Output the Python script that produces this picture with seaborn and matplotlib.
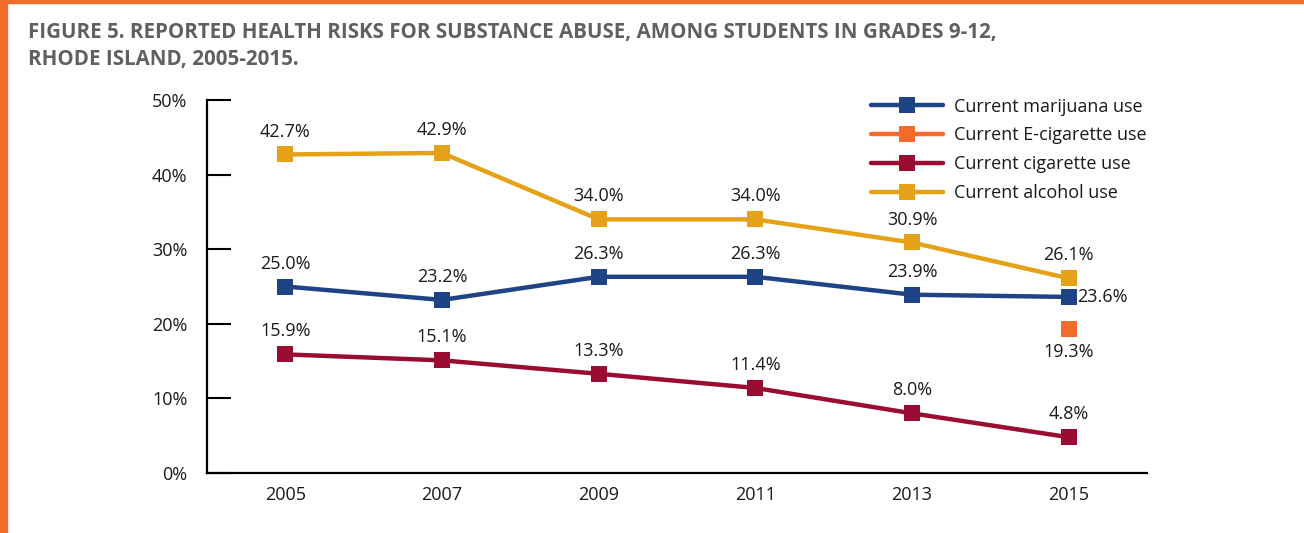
import matplotlib
matplotlib.use("Agg")
import matplotlib.pyplot as plt
import matplotlib.patches as mpatches
import numpy as np
import pandas as pd
import seaborn as sns

years = ["2005", "2007", "2009", "2011", "2013", "2015"]
marijuana = [25.0, 23.2, 26.3, 26.3, 23.9, 23.6]
ecig = [None, None, None, None, None, 19.3]
cigarette = [15.9, 15.1, 13.3, 11.4, 8.0, 4.8]
alcohol = [42.7, 42.9, 34.0, 34.0, 30.9, 26.1]

series_names = ["Current marijuana use", "Current E-cigarette use",
                "Current cigarette use", "Current alcohol use"]
series_values = [marijuana, ecig, cigarette, alcohol]
colors = ["#1F4486", "#F26B2A", "#9B0C32", "#E5A117"]

sns.set_theme(style="white")
plt.rcParams["font.family"] = ["Open Sans", "DejaVu Sans"]

fig = plt.figure(figsize=(13.04, 5.33), dpi=100)
ax = fig.add_axes([207 / 1304, 1 - 473 / 533, (1147 - 207) / 1304, (473 - 100) / 533])

rows = []
for name, vals in zip(series_names, series_values):
    for i, v in enumerate(vals):
        if v is not None:
            rows.append({"pos": i, "value": v, "series": name})
df = pd.DataFrame(rows)

for name, color in zip(series_names, colors):
    sub = df[df["series"] == name]
    sns.lineplot(data=sub, x="pos", y="value", ax=ax, color=color, lw=3.2,
                 marker="s", markersize=11.5, markeredgewidth=0,
                 markerfacecolor=color, label=name, legend=False)

# value labels
label_color = "#1a1a1a"
for name, vals in zip(series_names, series_values):
    for i, v in enumerate(vals):
        if v is None:
            continue
        txt = f"{v:.1f}%"
        if name == "Current marijuana use" and i == 5:
            ax.annotate(txt, (i, v), xytext=(6, 0), textcoords="offset points",
                        ha="left", va="center", fontsize=13, color=label_color)
        elif name == "Current E-cigarette use":
            ax.annotate(txt, (i, v), xytext=(0, -10), textcoords="offset points",
                        ha="center", va="top", fontsize=13, color=label_color)
        else:
            ax.annotate(txt, (i, v), xytext=(0, 10), textcoords="offset points",
                        ha="center", va="bottom", fontsize=13, color=label_color)

ax.set_xlim(-0.5, 5.5)
ax.set_ylim(0, 50)
ax.set_xticks(range(len(years)))
ax.set_xticklabels(years, fontsize=13, color=label_color)
ax.set_xticks(np.arange(0.5, 6.0, 1.0), minor=True)
ax.tick_params(axis="x", which="major", length=0, pad=9)
ax.tick_params(axis="x", which="minor", direction="in", length=6, width=1.5, color="black")
ax.set_yticks(range(0, 51, 10))
ax.set_yticklabels([f"{t}%" for t in range(0, 51, 10)], fontsize=13, color=label_color)
ax.tick_params(axis="y", direction="in", length=17, width=1.5, color="black", pad=14, left=True)
ax.set_xlabel("")
ax.set_ylabel("")
for s in ["top", "right"]:
    ax.spines[s].set_visible(False)
for s in ["left", "bottom"]:
    ax.spines[s].set_color("black")
    ax.spines[s].set_linewidth(1.6)

handles, labels = ax.get_legend_handles_labels()
leg = ax.legend(handles, labels, loc="upper left", bbox_to_anchor=(657 / 940, 1.026),
                frameon=False, fontsize=13, handlelength=4.0, labelspacing=0.6,
                handletextpad=0.6, borderaxespad=0)
for t in leg.get_texts():
    t.set_color(label_color)

fig.text(28 / 1304, 1 - 22 / 533,
         "FIGURE 5. REPORTED HEALTH RISKS FOR SUBSTANCE ABUSE, AMONG STUDENTS IN GRADES 9-12,\nRHODE ISLAND, 2005-2015.",
         ha="left", va="top", fontsize=14.8, fontweight="bold", color="#5F6062", linespacing=1.38)

# orange page border along the top and left edges
fig.patches.append(mpatches.Rectangle((0, 1 - 3 / 533), 1, 3 / 533, transform=fig.transFigure,
                                      color="#F26B2A", zorder=10))
fig.patches.append(mpatches.Rectangle((0, 0), 7 / 1304, 1, transform=fig.transFigure,
                                      color="#F26B2A", zorder=10))

fig.savefig("out.png", dpi=100)
